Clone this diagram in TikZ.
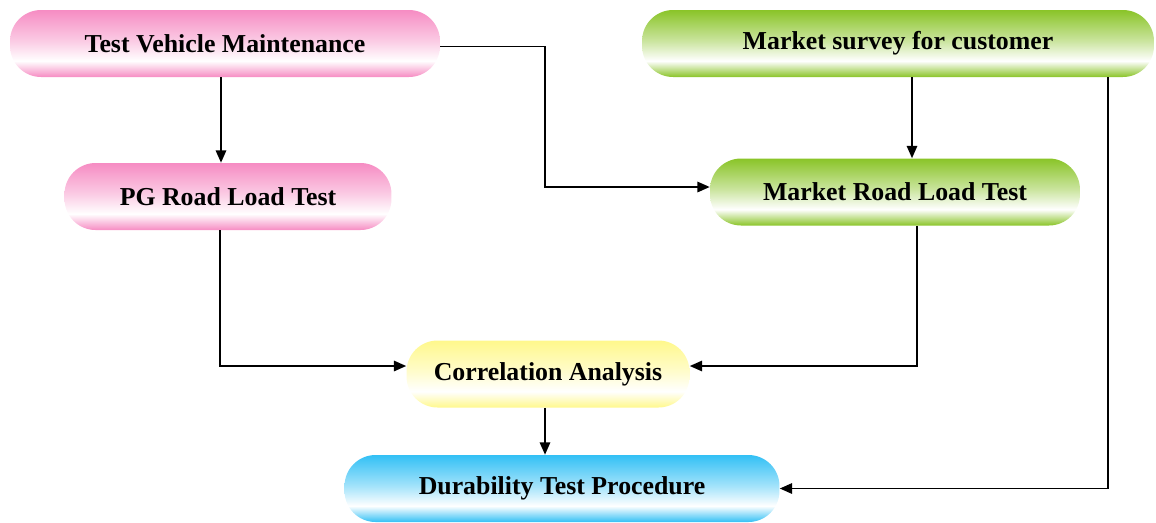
\documentclass[tikz,border=0pt]{standalone}
\usepackage{fontspec}
\setmainfont{Liberation Serif}
\usetikzlibrary{calc,arrows.meta}
\definecolor{pinkc}{RGB}{246,140,195}
\definecolor{greenc}{RGB}{138,196,40}
\definecolor{yellowc}{RGB}{255,248,140}
\definecolor{bluec}{RGB}{50,192,245}
\pgfdeclareverticalshading{pinksh}{100bp}{color(0bp)=(pinkc); color(25bp)=(pinkc); color(37bp)=(white); color(52bp)=(pinkc!45); color(75bp)=(pinkc); color(100bp)=(pinkc)}
\pgfdeclareverticalshading{greensh}{100bp}{color(0bp)=(greenc); color(25bp)=(greenc); color(37bp)=(white); color(52bp)=(greenc!45); color(75bp)=(greenc); color(100bp)=(greenc)}
\pgfdeclareverticalshading{yellowsh}{100bp}{color(0bp)=(yellowc); color(25bp)=(yellowc); color(37bp)=(white); color(52bp)=(yellowc!45); color(75bp)=(yellowc); color(100bp)=(yellowc)}
\pgfdeclareverticalshading{bluesh}{100bp}{color(0bp)=(bluec); color(25bp)=(bluec); color(37bp)=(white); color(52bp)=(bluec!45); color(75bp)=(bluec); color(100bp)=(bluec)}
\tikzset{
  box/.style={rectangle, rounded corners=0.62cm, minimum height=1.34cm, inner sep=0pt,
    font=\fontsize{14.7}{17}\selectfont\bfseries, text=black},
  pinkbox/.style={box, shading=pinksh},
  greenbox/.style={box, shading=greensh},
  yellowbox/.style={box, shading=yellowsh},
  bluebox/.style={box, shading=bluesh},
  conn/.style={draw=black, line width=0.8pt},
  arr/.style={conn, -{Triangle[length=7pt,width=6pt]}}
}
\begin{document}
\begin{tikzpicture}[x=0.02cm,y=-0.02cm]
\useasboundingbox (0,0) rectangle (1156,522);
\node[pinkbox, minimum width=8.6cm] (tvm) at (225,43.5) {Test Vehicle Maintenance};
\node[greenbox, minimum width=10.24cm] (ms) at (898,43.5) {Market survey for customer};
\node[pinkbox, minimum width=6.54cm] (pg) at (228,196.5) {PG Road Load Test};
\node[greenbox, minimum width=7.4cm] (mrlt) at (895,192) {Market Road Load Test};
\node[yellowbox, minimum width=5.66cm] (cor) at (548,374) {Correlation Analysis};
\node[bluebox, minimum width=8.7cm, minimum height=1.34cm] (dtp) at (562,488.5) {Durability Test Procedure};
\coordinate (c1) at (545,100);
\coordinate (c2) at ($(ms.south)+(210,0)$);
\draw[arr] ($(tvm.south)+(-4,0)$) -- ($(tvm.south |- pg.north)+(-4,0)$);
\draw[arr] ($(tvm.east)+(0,3)$) -| (c1) |- ($(mrlt.west)+(0,-5)$);
\draw[arr] ($(ms.south)+(14,0)$) -- ($(ms.south |- mrlt.north)+(14,0)$);
\draw[arr] (c2) |- (dtp.east);
\draw[arr] ($(pg.south)+(-8,0)$) |- ($(cor.west)+(0,-8)$);
\draw[arr] ($(mrlt.south)+(22,0)$) |- ($(cor.east)+(0,-8)$);
\draw[arr] ($(cor.south)+(-3,0)$) -- ($(cor.south |- dtp.north)+(-3,0)$);
\end{tikzpicture}
\end{document}
